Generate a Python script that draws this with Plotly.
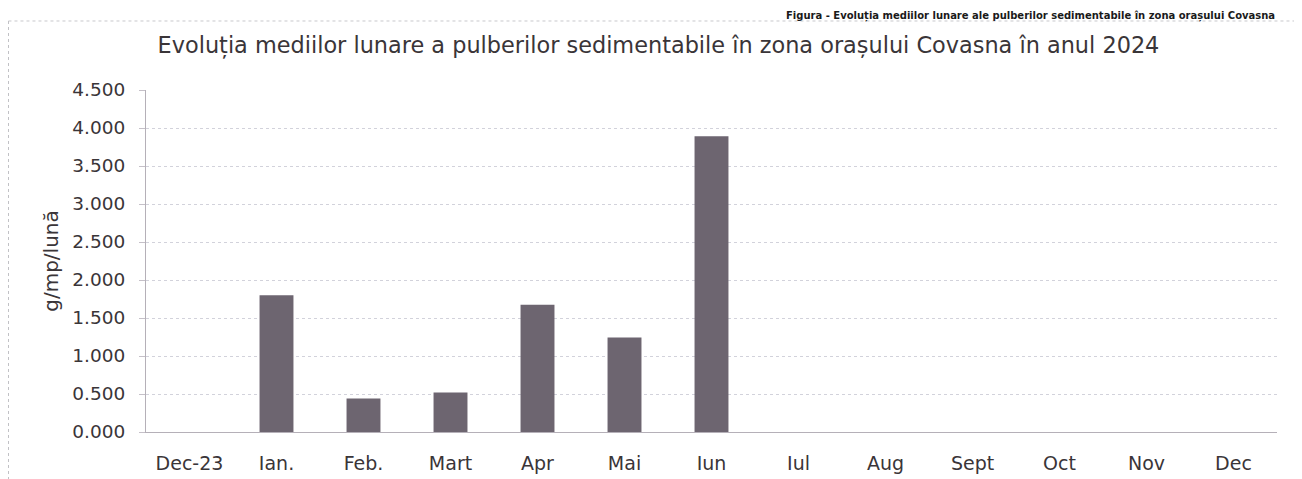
import plotly.graph_objects as go

categories = ["Dec-23", "Ian.", "Feb.", "Mart", "Apr", "Mai", "Iun", "Iul", "Aug", "Sept", "Oct", "Nov", "Dec"]
values = [0.0, 1.80, 0.44, 0.52, 1.675, 1.245, 3.89, None, None, None, None, None, None]
ytick_vals = [0, 0.5, 1.0, 1.5, 2.0, 2.5, 3.0, 3.5, 4.0, 4.5]
ytick_text = ["0.000", "0.500", "1.000", "1.500", "2.000", "2.500", "3.000", "3.500", "4.000", "4.500"]

FONT = "DejaVu Sans"
TXT = "#3a3538"

fig = go.Figure(go.Bar(x=categories, y=values, marker=dict(color="#6d6570", line=dict(width=0))))

fig.update_layout(
    width=1294, height=471,
    margin=dict(l=138, r=25, t=82, b=47, autoexpand=False),
    paper_bgcolor="white", plot_bgcolor="white",
    bargap=0.61,
    showlegend=False,
    font=dict(family=FONT, color=TXT),
    title=dict(text="Evoluția mediilor lunare a pulberilor sedimentabile în zona orașului Covasna în anul 2024",
               x=0.5027, xanchor="center", y=0.921, yanchor="middle",
               font=dict(size=22.4, family=FONT, color=TXT)),
)
fig.update_yaxes(
    range=[0, 4.5], tickvals=ytick_vals, ticktext=ytick_text,
    showgrid=True, gridcolor="#d2d2db", griddash="dot", gridwidth=1,
    showline=True, linecolor="#b5b0b8", linewidth=1,
    ticks="outside", ticklen=6, tickcolor="#c5c0c8",
    ticklabelstandoff=10,
    tickfont=dict(size=18.5, family=FONT, color=TXT),
    title=dict(text="g/mp/lună", font=dict(size=20, family=FONT, color=TXT), standoff=8),
    zeroline=False, automargin=False,
)
fig.update_xaxes(
    showline=True, linecolor="#b5b0b8", linewidth=1,
    ticks="", ticklabelstandoff=14,
    tickfont=dict(size=19, family=FONT, color=TXT),
    automargin=False,
)
# frame of the chart area (scanned page)
fig.add_shape(type="line", xref="paper", yref="paper", x0=-0.1216, x1=1.03, y0=1.2018, y1=1.2018,
              line=dict(color="#c8c8cc", width=1, dash="dot"))
fig.add_shape(type="line", xref="paper", yref="paper", x0=-0.1216, x1=-0.1216, y0=1.2018, y1=-0.14,
              line=dict(color="#c0c0c4", width=1, dash="dot"))
# heading of the page above the chart
fig.add_annotation(text="<b>Figura - Evoluția mediilor lunare ale pulberilor sedimentabile în zona orașului Covasna</b>",
                   xref="paper", yref="paper", x=1.0, y=1.2398, xanchor="right", yanchor="top",
                   showarrow=False, font=dict(size=10, family=FONT, color="#1a1a1a"))

fig.write_html("out.html")
